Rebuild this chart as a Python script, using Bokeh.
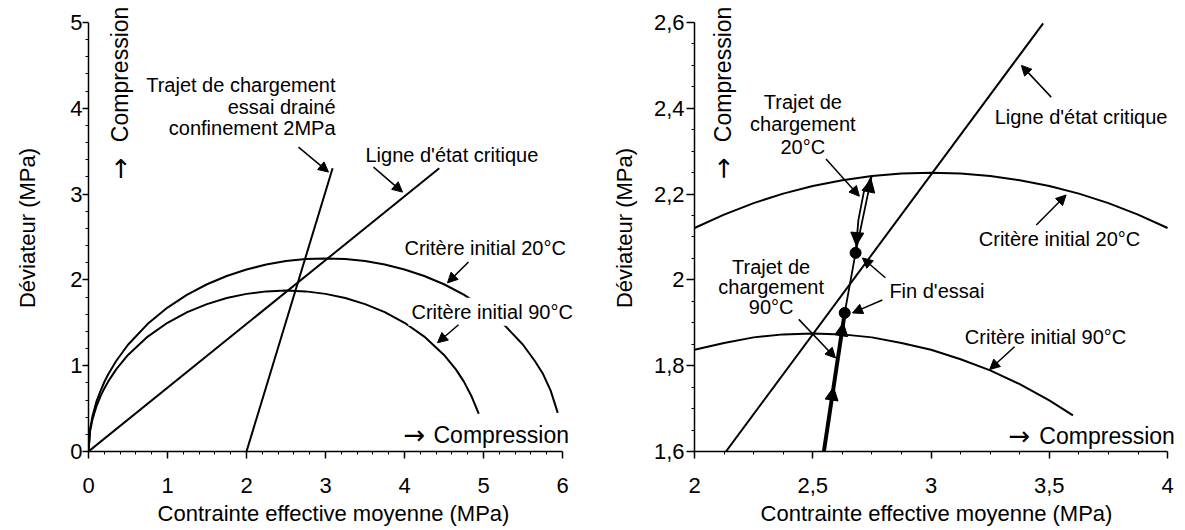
import numpy as np
from bokeh.plotting import figure
from bokeh.models import Range1d, FixedTicker, Label, Arrow, NormalHead, CustomJSTickFormatter
from bokeh.layouts import row
from bokeh.embed import file_html
from bokeh.resources import INLINE

FONT = "Liberation Sans"
ARROW_FONT = "DejaVu Sans"

# ---------------- data: left panel ----------------
L_X_TICKS = [0, 1, 2, 3, 4, 5, 6]
L_X_LABELS = ["0", "1", "2", "3", "4", "5", "6"]
L_Y_TICKS = [0, 1, 2, 3, 4, 5]
L_Y_LABELS = ["0", "1", "2", "3", "4", "5"]

crit20_p = [0.0, 0.02, 0.05, 0.10, 0.15, 0.20, 0.25, 0.35, 0.50, 0.75, 1.00, 1.25, 1.50, 1.75,
            2.00, 2.25, 2.50, 2.75, 3.00, 3.25, 3.50, 3.75, 4.00, 4.25, 4.50, 4.75, 5.00,
            5.25, 5.50, 5.65, 5.75, 5.85, 5.94]
crit20_q = [0.0, 0.26, 0.41, 0.58, 0.70, 0.81, 0.90, 1.055, 1.244, 1.488, 1.677, 1.828, 1.949, 2.045,
            2.121, 2.179, 2.219, 2.242, 2.250, 2.242, 2.219, 2.179, 2.121, 2.045, 1.949, 1.828, 1.677,
            1.488, 1.244, 1.055, 0.91, 0.71, 0.45]
crit90_p = [0.0, 0.02, 0.05, 0.10, 0.15, 0.20, 0.25, 0.35, 0.50, 0.75, 1.00, 1.25, 1.50, 1.75,
            2.00, 2.25, 2.50, 2.75, 3.00, 3.25, 3.50, 3.75, 4.00, 4.25, 4.50, 4.65, 4.75, 4.85, 4.94]
crit90_q = [0.0, 0.237, 0.373, 0.525, 0.640, 0.735, 0.817, 0.957, 1.125, 1.339, 1.500, 1.624, 1.718, 1.789,
            1.837, 1.866, 1.875, 1.866, 1.837, 1.789, 1.718, 1.624, 1.500, 1.339, 1.125, 0.957, 0.817,
            0.640, 0.44]
csl_left_p = [0.0, 4.44]
csl_left_q = [0.0, 3.30]
drained_p = [2.0, 3.09]
drained_q = [0.0, 3.30]

# ---------------- data: right panel ----------------
R_X_TICKS = [2, 2.5, 3, 3.5, 4]
R_X_LABELS = ["2", "2,5", "3", "3,5", "4"]
R_Y_TICKS = [1.6, 1.8, 2.0, 2.2, 2.4, 2.6]
R_Y_LABELS = ["1,6", "1,8", "2", "2,2", "2,4", "2,6"]

r_crit20_p = [2.00, 2.125, 2.25, 2.375, 2.50, 2.625, 2.75, 2.875, 3.00, 3.125, 3.25, 3.375,
              3.50, 3.625, 3.75, 3.875, 4.00]
r_crit20_q = [2.121, 2.152, 2.179, 2.201, 2.219, 2.232, 2.242, 2.248, 2.250, 2.248, 2.242, 2.232,
              2.219, 2.201, 2.179, 2.152, 2.121]
r_crit90_p = [2.00, 2.125, 2.25, 2.375, 2.50, 2.625, 2.75, 2.875, 3.00, 3.125, 3.25, 3.375,
              3.50, 3.60]
r_crit90_q = [1.837, 1.853, 1.866, 1.873, 1.875, 1.873, 1.866, 1.853, 1.837, 1.815, 1.789, 1.757,
              1.719, 1.684]
csl_right_p = [2.133, 3.474]
csl_right_q = [1.600, 2.598]
path90_p = [2.547, 2.635]
path90_q = [1.600, 1.923]
path20_up_p = [2.547, 2.635, 2.681, 2.749]
path20_up_q = [1.600, 1.923, 2.063, 2.242]
path20_down_p = [2.749, 2.716, 2.693, 2.681]
path20_down_q = [2.242, 2.205, 2.140, 2.063]
end_p = [2.681, 2.635]
end_q = [2.063, 1.923]


def tick_formatter(tick_vals, tick_labels):
    return CustomJSTickFormatter(args=dict(tvals=tick_vals, tlabels=tick_labels), code="""
        let best = 0;
        for (let i = 0; i < tvals.length; i++) {
            if (Math.abs(tvals[i] - tick) < Math.abs(tvals[best] - tick)) best = i;
        }
        return tlabels[best];
    """)


def make_fig(xr, yr, bounds_x, bounds_y, width, mbl, mbr, xt, xl, yt, yl, nminx, nminy,
             ytick_out, ylab_standoff, ylabel_standoff):
    p = figure(width=width, height=528, x_range=Range1d(*xr), y_range=Range1d(*yr),
               output_backend="svg", toolbar_location=None, title=None,
               min_border_left=mbl, min_border_right=mbr, min_border_top=4, min_border_bottom=76)
    p.grid.visible = False
    p.outline_line_color = None
    xminor = []
    for a, b in zip(xt[:-1], xt[1:]):
        xminor += [float(v) for v in np.linspace(a, b, nminx + 1)[1:-1]]
    yminor = []
    for a, b in zip(yt[:-1], yt[1:]):
        yminor += [float(v) for v in np.linspace(a, b, nminy + 1)[1:-1]]
    p.xaxis.ticker = FixedTicker(ticks=xt, minor_ticks=xminor)
    p.yaxis.ticker = FixedTicker(ticks=yt, minor_ticks=yminor)
    p.xaxis.formatter = tick_formatter(xt, xl)
    p.yaxis.formatter = tick_formatter(yt, yl)
    p.xaxis.bounds = bounds_x
    p.yaxis.bounds = bounds_y
    for ax in (p.xaxis[0], p.yaxis[0]):
        ax.axis_line_color = "black"
        ax.axis_line_width = 1.5
        ax.major_tick_line_color = "black"
        ax.major_tick_line_width = 1.5
        ax.minor_tick_line_color = "black"
        ax.minor_tick_line_width = 1
        ax.major_tick_in = 0
        ax.minor_tick_in = 0
        ax.minor_tick_out = 3
        ax.major_label_text_font = FONT
        ax.major_label_text_font_size = "22px"
        ax.major_label_text_color = "black"
        ax.axis_label_text_font = FONT
        ax.axis_label_text_font_size = "22px"
        ax.axis_label_text_font_style = "normal"
        ax.axis_label_text_color = "black"
    p.xaxis.major_tick_out = 7
    p.xaxis.major_label_standoff = 19
    p.xaxis.axis_label_standoff = 5
    p.yaxis.major_tick_out = ytick_out
    p.yaxis.major_label_standoff = ylab_standoff
    p.yaxis.axis_label_standoff = ylabel_standoff
    p.xaxis.axis_label = "Contrainte effective moyenne (MPa)"
    p.yaxis.axis_label = "Déviateur (MPa)"
    return p


def label(p, x, y, text, align="left", size="20px", font=FONT, **kw):
    p.add_layout(Label(x=x, y=y, text=text, text_align=align, text_baseline="middle",
                       text_font=font, text_font_size=size, text_color="black", **kw))


def pointer(p, x0, y0, x1, y1):
    p.add_layout(Arrow(end=NormalHead(size=10, fill_color="black", line_color="black", line_width=1),
                       x_start=x0, y_start=y0, x_end=x1, y_end=y1,
                       line_color="black", line_width=1.5))


def path_arrow(p, x0, y0, x1, y1):
    p.add_layout(Arrow(end=NormalHead(size=13, fill_color="black", line_color="black", line_width=1),
                       x_start=x0, y_start=y0, x_end=x1, y_end=y1,
                       line_color="black", line_alpha=0.0, line_width=1))


def compression(p, xa, xt_, y, vertical=False):
    ang = np.pi / 2 if vertical else 0.0
    if vertical:
        label(p, xa, xt_, "→", size="26px", font=ARROW_FONT, angle=ang)
        label(p, xa, y, "Compression", size="23px", angle=ang)
    else:
        label(p, xa, y, "→", size="26px", font=ARROW_FONT)
        label(p, xt_, y, "Compression", size="23px")


# ---------------- left figure ----------------
p1 = make_fig((0, 6.2025), (0, 5.2093), (0, 6), (0, 5), 608, 88, 30,
              L_X_TICKS, L_X_LABELS, L_Y_TICKS, L_Y_LABELS, 5, 5, 6, 0, 27)
p1.line(crit20_p, crit20_q, line_color="black", line_width=2)
p1.line(crit90_p, crit90_q, line_color="black", line_width=2)
p1.line(csl_left_p, csl_left_q, line_color="black", line_width=2)
p1.line(drained_p, drained_q, line_color="black", line_width=2)

label(p1, 3.127, 4.27, "Trajet de chargement", align="right")
label(p1, 3.127, 4.01, "essai drainé", align="right")
label(p1, 3.127, 3.77, "confinement 2MPa", align="right")
pointer(p1, 2.658, 3.547, 3.038, 3.256)
label(p1, 3.506, 3.453, "Ligne d'état critique")
pointer(p1, 3.608, 3.314, 3.975, 3.023)
label(p1, 4.00, 2.372, "Critère initial 20°C")
pointer(p1, 4.81, 2.209, 4.544, 1.965)
label(p1, 4.05, 1.628, "Critère initial 90°C", background_fill_color="white", padding=3)
pointer(p1, 4.684, 1.477, 4.418, 1.267)
compression(p1, 3.987, 4.367, 0.198)
compression(p1, 0.405, 3.174, 3.605, vertical=True)

# ---------------- right figure ----------------
p2 = make_fig((2, 4.0462), (1.6, 2.6419), (2, 4), (1.6, 2.6), 575, 83, 5,
              R_X_TICKS, R_X_LABELS, R_Y_TICKS, R_Y_LABELS, 4, 4, 8, 2, 14)
p2.line(r_crit20_p, r_crit20_q, line_color="black", line_width=2)
p2.line(r_crit90_p, r_crit90_q, line_color="black", line_width=2)
p2.line(csl_right_p, csl_right_q, line_color="black", line_width=2)
p2.line(path20_up_p, path20_up_q, line_color="black", line_width=1.8)
p2.line(path20_down_p, path20_down_q, line_color="black", line_width=1.8)
p2.line(path90_p, path90_q, line_color="black", line_width=4)
p2.scatter(end_p, end_q, size=11, fill_color="black", line_color="black")

path_arrow(p2, 2.574, 1.70, 2.588, 1.75)
path_arrow(p2, 2.615, 1.85, 2.629, 1.90)
path_arrow(p2, 2.7293, 2.19, 2.7463, 2.235)
path_arrow(p2, 2.6914, 2.13, 2.6837, 2.08)

label(p2, 2.458, 2.415, "Trajet de", align="center")
label(p2, 2.458, 2.364, "chargement", align="center")
label(p2, 2.458, 2.309, "20°C", align="center")
pointer(p2, 2.556, 2.282, 2.697, 2.195)
label(p2, 2.324, 2.030, "Trajet de", align="center")
label(p2, 2.324, 1.984, "chargement", align="center")
label(p2, 2.324, 1.936, "90°C", align="center")
pointer(p2, 2.441, 1.908, 2.596, 1.818)
label(p2, 2.824, 1.973, "Fin d'essai")
pointer(p2, 2.807, 2.005, 2.710, 2.051)
pointer(p2, 2.794, 1.953, 2.668, 1.923)
label(p2, 3.269, 2.379, "Ligne d'état critique")
pointer(p2, 3.508, 2.426, 3.382, 2.500)
label(p2, 3.202, 2.095, "Critère initial 20°C")
pointer(p2, 3.445, 2.128, 3.571, 2.198)
label(p2, 3.143, 1.867, "Critère initial 90°C")
pointer(p2, 3.353, 1.844, 3.248, 1.791)
compression(p2, 3.328, 3.458, 1.635)
compression(p2, 2.122, 2.235, 2.321, vertical=True)

layout = row(p1, p2)
open("out.html", "w").write(file_html(layout, INLINE))
